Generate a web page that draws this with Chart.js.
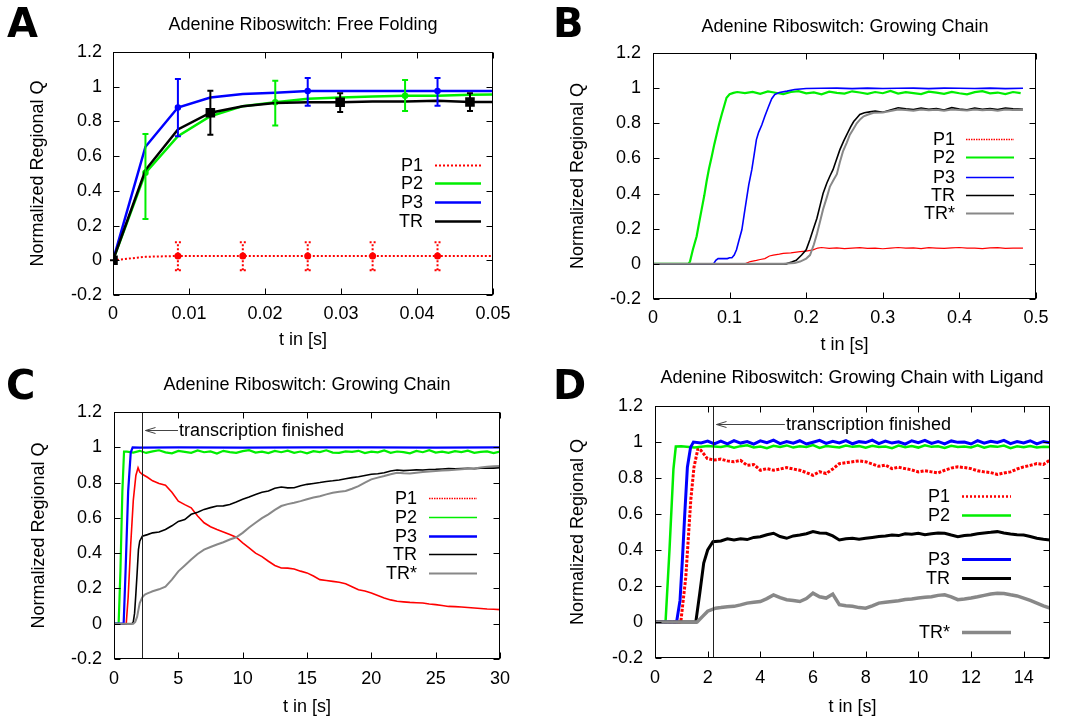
<!DOCTYPE html>
<html><head><meta charset="utf-8">
<script src="https://cdn.jsdelivr.net/npm/chart.js@4.4.1/dist/chart.umd.min.js"></script>
<style>
html,body{margin:0;padding:0;background:#fff;}
#wrap{position:relative;width:1068px;height:720px;overflow:hidden;background:#fff;font-family:"Liberation Sans",Arial,sans-serif;}
.pn{position:absolute;width:534px;height:360px;}
.pn canvas{position:absolute;left:0;top:0;}
.ttl{position:absolute;font-size:18px;line-height:18px;white-space:nowrap;transform:translateX(-50%);color:#000;}
.let{position:absolute;font-family:"DejaVu Sans",sans-serif;font-weight:bold;font-size:40px;line-height:40px;color:#000;}
</style></head>
<body>
<div id="wrap">
  <div class="pn" style="left:0;top:0"><canvas id="cA" width="534" height="360"></canvas></div>
  <div class="pn" style="left:534px;top:0"><canvas id="cB" width="534" height="360"></canvas></div>
  <div class="pn" style="left:0;top:360px"><canvas id="cC" width="534" height="360"></canvas></div>
  <div class="pn" style="left:534px;top:360px"><canvas id="cD" width="534" height="360"></canvas></div>
  <div class="let" style="left:7px;top:3px">A</div>
  <div class="let" style="left:553px;top:3px">B</div>
  <div class="let" style="left:6px;top:365px">C</div>
  <div class="let" style="left:553px;top:365px">D</div>
  <div class="ttl" style="left:303px;top:15px">Adenine Riboswitch: Free Folding</div>
  <div class="ttl" style="left:845px;top:17px">Adenine Riboswitch: Growing Chain</div>
  <div class="ttl" style="left:307px;top:375px">Adenine Riboswitch: Growing Chain</div>
  <div class="ttl" style="left:852px;top:368px">Adenine Riboswitch: Growing Chain with Ligand</div>
</div>
<script>
// ---------------- DATA ----------------
const yTicks = [-0.2, 0, 0.2, 0.4, 0.6, 0.8, 1, 1.2];
const seriesNames = ['P1', 'P2', 'P3', 'TR', 'TR*'];

// Panel A: free folding (with error bars)
const A_t   = [0, 0.00427, 0.00854, 0.01281, 0.01708, 0.02135, 0.02562, 0.02989, 0.03416, 0.03843, 0.0427, 0.04697, 0.05124];
const A_P1  = [0, 0.02, 0.025, 0.025, 0.025, 0.025, 0.025, 0.025, 0.025, 0.025, 0.025, 0.025, 0.025];
const A_P1_lo = [null, null, -0.058, null, -0.058, null, -0.058, null, -0.058, null, -0.058, null, null];
const A_P1_hi = [null, null, 0.104, null, 0.104, null, 0.104, null, 0.104, null, 0.104, null, null];
const A_P2  = [0, 0.504, 0.715, 0.83, 0.888, 0.91, 0.93, 0.938, 0.944, 0.948, 0.948, 0.954, 0.955];
const A_P2_lo = [null, 0.238, null, null, null, 0.777, null, null, null, 0.86, null, null, null];
const A_P2_hi = [null, 0.727, null, null, null, 1.035, null, null, null, 1.038, null, null, null];
const A_P3  = [0, 0.654, 0.88, 0.938, 0.958, 0.965, 0.975, 0.975, 0.975, 0.975, 0.975, 0.975, 0.975];
const A_P3_lo = [null, null, 0.715, null, null, null, 0.89, null, null, null, 0.89, null, null];
const A_P3_hi = [null, null, 1.044, null, null, null, 1.05, null, null, null, 1.05, null, null];
const A_TR  = [0, 0.52, 0.754, 0.85, 0.888, 0.906, 0.91, 0.91, 0.915, 0.915, 0.919, 0.912, 0.912];
const A_TR_lo = [0, null, null, 0.723, null, null, null, 0.854, null, null, null, 0.86, null];
const A_TR_hi = [0, null, null, 0.977, null, null, null, 0.963, null, null, null, 0.963, null];

// Panel B: growing chain (short time)
const B_tail_t = [0.33, 0.34, 0.35, 0.36, 0.37, 0.38, 0.39, 0.4, 0.41, 0.42, 0.43, 0.44, 0.45, 0.46, 0.47, 0.483];
const B_P1_t = [0, 0.12, 0.127, 0.135, 0.14, 0.146, 0.152, 0.157, 0.165, 0.17, 0.18, 0.192, 0.2, 0.209, 0.215, 0.22, 0.23, 0.24, 0.25, 0.26, 0.27, 0.28, 0.29, 0.3, 0.31, 0.32, ...B_tail_t];
const B_P1_q = [0, 0, 0.013, 0.02, 0.025, 0.03, 0.045, 0.05, 0.055, 0.06, 0.062, 0.07, 0.072, 0.08, 0.09, 0.093,
  0.088, 0.091, 0.087, 0.09, 0.092, 0.088, 0.09, 0.086, 0.09, 0.093,
  0.089, 0.091, 0.087, 0.092, 0.09, 0.088, 0.091, 0.093, 0.089, 0.09, 0.087, 0.091, 0.092, 0.088, 0.09, 0.089];
const B_P2_t = [0, 0.046, 0.0483, 0.052, 0.057, 0.06, 0.0635, 0.067, 0.07, 0.073, 0.0766, 0.08, 0.083, 0.086, 0.0897, 0.093, 0.096, 0.1, 0.105, 0.11,
  0.12, 0.13, 0.14, 0.15, 0.16, 0.17, 0.18, 0.19, 0.2, 0.21, 0.22, 0.23, 0.24, 0.25, 0.26, 0.27, 0.28, 0.29, 0.3, 0.31, 0.32, 0.33, 0.34, 0.35, 0.36, 0.37, 0.38, 0.39, 0.4, 0.41, 0.42, 0.43, 0.44, 0.45, 0.46, 0.47, 0.48];
const B_P2_q = [0, 0, 0.013, 0.08, 0.157, 0.23, 0.31, 0.39, 0.47, 0.54, 0.61, 0.68, 0.735, 0.79, 0.85, 0.9, 0.945, 0.965, 0.973, 0.978,
  0.972, 0.979, 0.968, 0.981, 0.974, 0.966, 0.978, 0.983, 0.97, 0.976,
  0.965, 0.98, 0.973, 0.969, 0.982, 0.975, 0.967, 0.978, 0.971, 0.984,
  0.969, 0.977, 0.972, 0.966, 0.98, 0.974, 0.968, 0.979, 0.971, 0.965,
  0.977, 0.983, 0.97, 0.975, 0.966, 0.978, 0.972];
const B_P3_t = [0, 0.079, 0.082, 0.085, 0.097, 0.1, 0.103, 0.106, 0.109, 0.112, 0.116, 0.119, 0.122, 0.125, 0.129, 0.132, 0.135, 0.138, 0.142, 0.146, 0.151, 0.155, 0.159, 0.165, 0.175, 0.185, 0.2,
  0.22, 0.24, 0.26, 0.28, 0.3, 0.32, 0.34, 0.36, 0.38, 0.4, 0.42, 0.44, 0.46, 0.483];
const B_P3_q = [0, 0, 0.02, 0.03, 0.03, 0.035, 0.035, 0.05, 0.08, 0.13, 0.194, 0.28, 0.365, 0.45, 0.536, 0.62, 0.707, 0.75, 0.79, 0.84, 0.897, 0.94, 0.964, 0.975, 0.983, 0.992, 0.998,
  0.999, 1.0, 0.997, 1.0, 0.998, 0.999, 1.0, 0.997, 1.0, 0.999, 0.998, 1.0, 0.997, 0.999];
const B_TR_t = [0, 0.174, 0.181, 0.187, 0.194, 0.2, 0.205, 0.209, 0.214, 0.218, 0.222, 0.227, 0.231, 0.235, 0.24, 0.244, 0.249, 0.253, 0.258, 0.262, 0.266, 0.27, 0.276, 0.283, 0.29, 0.3, 0.31, 0.32, ...B_tail_t];
const B_TR_q = [0, 0, 0.01, 0.02, 0.05, 0.08, 0.14, 0.194, 0.26, 0.33, 0.40, 0.46, 0.50, 0.536, 0.60, 0.65, 0.70, 0.735, 0.78, 0.81, 0.83, 0.85, 0.86, 0.865, 0.87, 0.863, 0.876, 0.888,
  0.882, 0.878, 0.886, 0.879, 0.884, 0.876, 0.889, 0.881, 0.877, 0.886, 0.88, 0.884, 0.878, 0.887, 0.882, 0.88];
const B_TRs_t = [0, 0.17, 0.185, 0.192, 0.2, 0.205, 0.21, 0.214, 0.218, 0.222, 0.227, 0.231, 0.236, 0.24, 0.244, 0.248, 0.253, 0.257, 0.262, 0.266, 0.271, 0.275, 0.281, 0.288, 0.3, 0.31, 0.32, ...B_tail_t];
const B_TRs_q = [0, 0, 0.005, 0.013, 0.03, 0.05, 0.11, 0.17, 0.24, 0.31, 0.38, 0.44, 0.48, 0.51, 0.58, 0.64, 0.69, 0.735, 0.77, 0.80, 0.825, 0.84, 0.85, 0.86, 0.862, 0.87, 0.878,
  0.876, 0.872, 0.879, 0.874, 0.877, 0.871, 0.878, 0.875, 0.873, 0.879, 0.874, 0.877, 0.872, 0.878, 0.876, 0.875];

// Panel C: growing chain (long time)
const C_tail_t = [3, 3.5, 4, 4.5, 5, 5.5, 6, 6.5, 7, 7.5, 8, 8.5, 9, 9.5, 10, 10.5, 11, 11.5, 12, 12.5, 13, 13.5, 14, 14.5, 15, 15.5, 16, 16.5, 17, 17.5,
  18, 18.5, 19, 19.5, 20, 20.5, 21, 21.5, 22, 22.5, 23, 23.5, 24, 24.5, 25, 25.5, 26, 26.5, 27, 27.5, 28, 28.5, 29, 29.5, 30];
const C_P1_t = [0, 0.95, 1.1, 1.3, 1.5, 1.7, 1.87, 2.0, 2.2, 2.6, ...C_tail_t];
const C_P1_q = [0, 0, 0.15, 0.45, 0.7, 0.84, 0.884, 0.86, 0.847, 0.83,
  0.81, 0.795, 0.785, 0.745, 0.695, 0.675, 0.657, 0.61, 0.572, 0.55,
  0.534, 0.52, 0.506, 0.49, 0.458, 0.43, 0.40, 0.38, 0.354, 0.33,
  0.316, 0.315, 0.31, 0.298, 0.288, 0.27, 0.25, 0.245, 0.24, 0.235,
  0.227, 0.21, 0.193, 0.185, 0.174, 0.16, 0.146, 0.135, 0.127, 0.124,
  0.121, 0.119, 0.117, 0.112, 0.108, 0.103, 0.098, 0.097, 0.095, 0.092,
  0.089, 0.086, 0.083, 0.082, 0.08];
const C_P2_t = [0, 0.36, 0.5, 0.65, 0.78, 1, 1.5, 2, 2.5, ...C_tail_t];
const C_P2_q = [0, 0, 0.3, 0.75, 0.975,
  0.975, 0.97, 0.98, 0.968, 0.977, 0.983, 0.971, 0.966, 0.979, 0.974,
  0.969, 0.982, 0.972, 0.977, 0.965, 0.98, 0.973, 0.968, 0.978, 0.984,
  0.97, 0.975, 0.967, 0.979, 0.972, 0.981, 0.969, 0.976, 0.966, 0.978,
  0.973, 0.983, 0.97, 0.968, 0.977, 0.974, 0.98, 0.967, 0.975, 0.971,
  0.982, 0.969, 0.976, 0.973, 0.966, 0.979, 0.972, 0.984, 0.97, 0.975,
  0.968, 0.978, 0.973, 0.981, 0.969, 0.974, 0.977, 0.967, 0.976];
const C_P3_t = [0, 0.75, 0.9, 1.1, 1.3, 1.45, 2, 5, 10, 15, 20, 25, 30];
const C_P3_q = [0, 0, 0.3, 0.75, 0.97, 1.0, 0.998, 1.0, 0.998, 0.999, 1.0, 0.998, 0.999];
const C_TR_t = [0, 1.4, 1.5, 1.6, 1.7, 1.8, 1.9, 2.0, 2.2, 2.6, ...C_tail_t];
const C_TR_q = [0, 0, 0.01, 0.06, 0.17, 0.29, 0.42, 0.468, 0.496, 0.505,
  0.515, 0.52, 0.534, 0.555, 0.58, 0.59, 0.62, 0.632, 0.648, 0.658,
  0.667, 0.668, 0.676, 0.69, 0.705, 0.718, 0.733, 0.745, 0.752, 0.768,
  0.775, 0.77, 0.771, 0.782, 0.79, 0.795, 0.8, 0.806, 0.81, 0.815,
  0.822, 0.828, 0.833, 0.84, 0.847, 0.85, 0.856, 0.866, 0.871, 0.868,
  0.87, 0.872, 0.871, 0.874, 0.875, 0.877, 0.879, 0.878, 0.88, 0.881,
  0.879, 0.882, 0.883, 0.882, 0.884];
const C_TRs_t = [0, 1.5, 1.65, 1.8, 1.9, 2.0, 2.2, 2.4, 2.6, 2.8, ...C_tail_t];
const C_TRs_q = [0, 0, 0.01, 0.04, 0.08, 0.117, 0.15, 0.165, 0.172, 0.178,
  0.184, 0.195, 0.21, 0.25, 0.297, 0.33, 0.364, 0.395, 0.42, 0.435,
  0.449, 0.462, 0.477, 0.49, 0.515, 0.545, 0.572, 0.598, 0.62, 0.645,
  0.667, 0.678, 0.686, 0.695, 0.705, 0.715, 0.723, 0.733, 0.742, 0.748,
  0.752, 0.765, 0.78, 0.8, 0.818, 0.828, 0.837, 0.847, 0.856, 0.853,
  0.852, 0.856, 0.86, 0.863, 0.866, 0.868, 0.87, 0.872, 0.875, 0.878,
  0.88, 0.885, 0.89, 0.892, 0.894];
const C_finish = 2.18;

// Panel D: growing chain with ligand
const D_tail_t = [2.5, 2.75, 3, 3.25, 3.5, 3.75, 4, 4.25, 4.5, 4.75, 5, 5.25, 5.5, 5.75, 6, 6.25, 6.5, 6.75, 7, 7.25, 7.5, 7.75, 8, 8.25, 8.5, 8.75,
  9, 9.25, 9.5, 9.75, 10, 10.25, 10.5, 10.75, 11, 11.25, 11.5, 11.75, 12, 12.25, 12.5, 12.75, 13, 13.25, 13.5, 13.75, 14, 14.25, 14.5, 14.75, 15];
const D_P1_t = [0, 0.98, 1.17, 1.36, 1.48, 1.63, 1.74, 1.99, 2.24, ...D_tail_t];
const D_P1_q = [0, 0, 0.25, 0.68, 0.86, 0.963, 0.954, 0.908, 0.9,
  0.905, 0.895, 0.89, 0.898, 0.87, 0.875, 0.843, 0.852, 0.843, 0.85,
  0.858, 0.85, 0.843, 0.83, 0.815, 0.835, 0.825, 0.85, 0.88, 0.885,
  0.89, 0.895, 0.89, 0.878, 0.865, 0.872, 0.852, 0.86, 0.852, 0.845,
  0.834, 0.84, 0.834, 0.828, 0.843, 0.855, 0.862, 0.858, 0.852, 0.84,
  0.834, 0.83, 0.82, 0.828, 0.834, 0.85, 0.862, 0.87, 0.88, 0.875, 0.9];
const D_P2_t = [0, 0.4, 0.55, 0.7, 0.79, 1.0, 1.5, 2.0, ...D_tail_t];
const D_P2_q = [0, 0, 0.4, 0.85, 0.975, 0.976, 0.97, 0.978,
  0.972, 0.979, 0.968, 0.977, 0.982, 0.97, 0.975, 0.966, 0.979, 0.973,
  0.981, 0.969, 0.976, 0.972, 0.983, 0.967, 0.978, 0.974, 0.97, 0.98,
  0.973, 0.977, 0.968, 0.979, 0.972, 0.975, 0.966, 0.98, 0.971, 0.977,
  0.969, 0.982, 0.973, 0.976, 0.967, 0.979, 0.972, 0.975, 0.97, 0.981,
  0.968, 0.977, 0.973, 0.98, 0.966, 0.976, 0.971, 0.978, 0.969, 0.974, 0.972];
const D_P3_t = [0, 0.82, 0.95, 1.04, 1.13, 1.23, 1.35, 1.46, 1.75, 2, 2.25, ...D_tail_t];
const D_P3_q = [0, 0, 0.12, 0.345, 0.6, 0.86, 0.97, 1.0, 0.995, 1.005, 0.99,
  1.005, 0.99, 1.008, 0.994, 1.002, 0.988, 1.006, 0.996, 1.01, 0.991,
  1.003, 0.993, 1.007, 0.989, 0.999, 1.009, 0.992, 1.004, 0.995, 1.008,
  0.99, 1.002, 0.997, 1.01, 0.991, 1.005, 0.994, 1.001, 0.988, 1.007,
  0.996, 1.009, 0.992, 1.003, 0.99, 1.006, 0.998, 1.0, 0.989, 1.008,
  0.993, 1.004, 0.997, 1.009, 0.991, 1.002, 0.995, 1.007, 0.99, 1.003, 0.996];
const D_TR_t = [0, 1.55, 1.7, 1.85, 2.0, 2.2, ...D_tail_t];
const D_TR_q = [0, 0, 0.16, 0.327, 0.4, 0.446,
  0.45, 0.462, 0.456, 0.462, 0.458, 0.47, 0.474, 0.485, 0.493, 0.475,
  0.465, 0.478, 0.483, 0.49, 0.502, 0.495, 0.493, 0.478, 0.456, 0.462,
  0.465, 0.46, 0.465, 0.47, 0.475, 0.478, 0.483, 0.48, 0.49, 0.487,
  0.493, 0.485, 0.49, 0.495, 0.493, 0.483, 0.474, 0.48, 0.483, 0.49,
  0.495, 0.498, 0.502, 0.495, 0.489, 0.485, 0.483, 0.475, 0.465, 0.46, 0.456];
const D_TRs_t = [0, 1.6, 1.8, 2.0, 2.3, ...D_tail_t];
const D_TRs_q = [0, 0, 0.03, 0.06, 0.077,
  0.08, 0.085, 0.087, 0.095, 0.105, 0.11, 0.114, 0.13, 0.15, 0.135,
  0.124, 0.12, 0.114, 0.13, 0.16, 0.14, 0.133, 0.155, 0.096, 0.09,
  0.087, 0.08, 0.077, 0.09, 0.105, 0.11, 0.114, 0.118, 0.125, 0.128,
  0.133, 0.138, 0.14, 0.148, 0.151, 0.14, 0.124, 0.128, 0.133, 0.14,
  0.148, 0.155, 0.16, 0.158, 0.151, 0.145, 0.133, 0.12, 0.105, 0.09, 0.077];
const D_finish = 2.2;

// ---------------- RENDER ----------------
const F = '"Liberation Sans", Arial, sans-serif';
const RED = '#ff0000', GREEN = '#00ee00', BLUE = '#0000ff', BLACK = '#000000', GRAY = '#888888';
Chart.defaults.color = '#000';

function pts(t, q) {
  const n = Math.min(t.length, q.length), a = [];
  for (let i = 0; i < n; i++) a.push({x: t[i], y: q[i]});
  return a;
}
function fmt(v) { return String(Math.round(v * 10000) / 10000); }

const gnu = {
  id: 'gnu',
  afterDatasetsDraw(chart, args, o) {
    const {ctx, chartArea: ca, scales: {x, y}} = chart;
    ctx.save();
    chart.data.datasets.forEach(d => {
      if (!d.errLo) return;
      ctx.strokeStyle = d.borderColor; ctx.lineWidth = d.errWidth || 2; ctx.setLineDash(d.errDash || []);
      d.errLo.forEach((lo, i) => {
        if (lo == null || !d.data[i]) return;
        const px = x.getPixelForValue(d.data[i].x), p1 = y.getPixelForValue(lo), p2 = y.getPixelForValue(d.errHi[i]);
        ctx.beginPath();
        ctx.moveTo(px, p1); ctx.lineTo(px, p2);
        ctx.moveTo(px - 3, p1); ctx.lineTo(px + 3, p1);
        ctx.moveTo(px - 3, p2); ctx.lineTo(px + 3, p2);
        ctx.stroke();
      });
    });
    ctx.setLineDash([]);
    if (o.finish) {
      const fx = Math.round(x.getPixelForValue(o.finish.t)) + 0.5;
      ctx.strokeStyle = '#222'; ctx.lineWidth = 1;
      ctx.beginPath(); ctx.moveTo(fx, ca.top); ctx.lineTo(fx, ca.bottom); ctx.stroke();
      const ay = Math.round(y.getPixelForValue(o.finish.q)) + 0.5;
      const tx = x.getPixelForValue(o.finish.textT);
      ctx.strokeStyle = '#444';
      ctx.beginPath();
      ctx.moveTo(tx - 1, ay); ctx.lineTo(fx + 3, ay);
      ctx.moveTo(fx + 13, ay - 3); ctx.lineTo(fx + 3, ay); ctx.lineTo(fx + 13, ay + 3);
      ctx.stroke();
      ctx.fillStyle = '#000'; ctx.font = '18px ' + F; ctx.textAlign = 'left'; ctx.textBaseline = 'middle';
      ctx.fillText(o.finish.text, tx, ay + 1);
    }
    const L = Math.round(ca.left) + 0.5, R = Math.round(ca.right) - 0.5, T = Math.round(ca.top) + 0.5, B = Math.round(ca.bottom) - 0.5;
    ctx.strokeStyle = '#000'; ctx.lineWidth = 1;
    ctx.strokeRect(L, T, R - L, B - T);
    ctx.beginPath();
    x.ticks.forEach(t => { const px = Math.round(x.getPixelForValue(t.value)) + 0.5;
      ctx.moveTo(px, B); ctx.lineTo(px, B - 6); ctx.moveTo(px, T); ctx.lineTo(px, T + 6); });
    y.ticks.forEach(t => { const py = Math.round(y.getPixelForValue(t.value)) + 0.5;
      ctx.moveTo(L, py); ctx.lineTo(L + 6, py); ctx.moveTo(R, py); ctx.lineTo(R - 6, py); });
    ctx.stroke();
    ctx.restore();
  },
  afterDraw(chart, args, o) {
    const lg = o.legend; if (!lg) return;
    const ctx = chart.ctx;
    ctx.save();
    ctx.font = '18px ' + F; ctx.textAlign = 'right'; ctx.textBaseline = 'middle';
    chart.data.datasets.forEach((d, i) => {
      const yy = lg.ys[i] + 0.5;
      ctx.fillStyle = '#000';
      ctx.fillText(d.label, lg.xr, yy + 1);
      ctx.strokeStyle = d.borderColor; ctx.lineWidth = d.legendWidth; ctx.setLineDash(d.legendDash || []);
      ctx.beginPath(); ctx.moveTo(lg.x1, yy); ctx.lineTo(lg.x2, yy); ctx.stroke();
    });
    ctx.restore();
  }
};
Chart.register(gnu);

function ds(label, t, q, color, w, extra) {
  return Object.assign({
    label, data: pts(t, q), borderColor: color, backgroundColor: color, borderWidth: w,
    pointRadius: 0, pointHoverRadius: 0, tension: 0, fill: false, spanGaps: true,
    legendWidth: w, legendDash: []
  }, extra || {});
}
function markAt(lo, r) { return c => (lo[c.dataIndex] != null ? r : 0); }

function build(id, L, xc, datasets, plug) {
  datasets.forEach((d, i) => { d.order = -i; });
  const tickFont = {family: F, size: 18};
  return new Chart(document.getElementById(id), {
    type: 'line',
    data: {datasets},
    options: {
      responsive: false, animation: false, events: [],
      layout: {padding: {left: 0, right: L.pr, top: L.top, bottom: 0}},
      plugins: {legend: {display: false}, tooltip: {enabled: false}, gnu: plug},
      scales: {
        x: {
          type: 'linear', min: xc.min, max: xc.max,
          afterFit: s => { s.height = L.xh; },
          grid: {display: false, drawTicks: false}, border: {display: false},
          ticks: {stepSize: xc.step, includeBounds: false, autoSkip: false, maxRotation: 0, minRotation: 0,
                  padding: L.xtp, color: '#000', font: tickFont, callback: v => fmt(v)},
          title: {display: true, text: 't in [s]', color: '#000', font: tickFont, padding: {top: 0, bottom: L.xtt}}
        },
        y: {
          type: 'linear', min: yTicks[0], max: yTicks[yTicks.length - 1],
          afterFit: s => { s.width = L.left; },
          grid: {display: false, drawTicks: false}, border: {display: false},
          ticks: {stepSize: yTicks[2] - yTicks[1], autoSkip: false, padding: L.ytp, color: '#000', font: tickFont, callback: v => fmt(v)},
          title: {display: true, text: 'Normalized Regional Q', color: '#000', font: tickFont, padding: {top: L.ytt, bottom: 0}}
        }
      }
    }
  });
}

// ---- Panel A
build('cA', {left: 113, pr: 41, top: 52, xh: 65, xtp: 8, xtt: 9, ytp: 11, ytt: 27},
  {min: 0, max: 0.05, step: 0.01},
  [
    ds(seriesNames[0], A_t, A_P1, RED, 2, {borderDash: [2, 2], legendDash: [2, 2], errLo: A_P1_lo, errHi: A_P1_hi, errDash: [2, 2], errWidth: 2, pointRadius: markAt(A_P1_lo, 2.5)}),
    ds(seriesNames[1], A_t, A_P2, GREEN, 2.5, {errLo: A_P2_lo, errHi: A_P2_hi, errWidth: 2, pointRadius: markAt(A_P2_lo, 2)}),
    ds(seriesNames[2], A_t, A_P3, BLUE, 2.5, {errLo: A_P3_lo, errHi: A_P3_hi, errWidth: 2, pointRadius: markAt(A_P3_lo, 2)}),
    ds(seriesNames[3], A_t, A_TR, BLACK, 2.5, {errLo: A_TR_lo, errHi: A_TR_hi, errWidth: 2, pointStyle: 'rect', pointRadius: markAt(A_TR_lo, 5)})
  ],
  {legend: {xr: 423, x1: 435, x2: 481, ys: [165, 183, 202, 221]}});

// ---- Panel B
build('cB', {left: 119, pr: 32, top: 53, xh: 61, xtp: 8, xtt: 4, ytp: 12, ytt: 33},
  {min: 0, max: 0.5, step: 0.1},
  [
    ds(seriesNames[0], B_P1_t, B_P1_q, RED, 1.2, {legendWidth: 1.5, legendDash: [1.5, 1]}),
    ds(seriesNames[1], B_P2_t, B_P2_q, GREEN, 2.2, {legendWidth: 2}),
    ds(seriesNames[2], B_P3_t, B_P3_q, BLUE, 1.6),
    ds(seriesNames[3], B_TR_t, B_TR_q, BLACK, 1.6),
    ds(seriesNames[4], B_TRs_t, B_TRs_q, GRAY, 2)
  ],
  {legend: {xr: 421, x1: 432, x2: 480, ys: [139, 157, 177, 195, 213]}});

// ---- Panel C
build('cC', {left: 114, pr: 34, top: 52, xh: 61, xtp: 9, xtt: 2, ytp: 12, ytt: 28},
  {min: 0, max: 30, step: 5},
  [
    ds(seriesNames[0], C_P1_t, C_P1_q, RED, 1.6, {legendWidth: 1.5, legendDash: [1.5, 1]}),
    ds(seriesNames[1], C_P2_t, C_P2_q, GREEN, 2.2, {legendWidth: 1.5}),
    ds(seriesNames[2], C_P3_t, C_P3_q, BLUE, 2.2, {legendWidth: 2.5}),
    ds(seriesNames[3], C_TR_t, C_TR_q, BLACK, 1.6),
    ds(seriesNames[4], C_TRs_t, C_TRs_q, GRAY, 2)
  ],
  {legend: {xr: 417, x1: 429, x2: 477, ys: [138, 157, 176, 194, 213]},
   finish: {t: C_finish, q: 1.1, textT: 5.05, text: 'transcription finished'}});

// ---- Panel D
build('cD', {left: 121, pr: 18, top: 46, xh: 62, xtp: 9, xtt: 2, ytp: 12, ytt: 33},
  {min: 0, max: 15, step: 2},
  [
    ds(seriesNames[0], D_P1_t, D_P1_q, RED, 3, {borderDash: [3, 1.5], legendDash: [2, 2], legendWidth: 2.5}),
    ds(seriesNames[1], D_P2_t, D_P2_q, GREEN, 2.5),
    ds(seriesNames[2], D_P3_t, D_P3_q, BLUE, 3),
    ds(seriesNames[3], D_TR_t, D_TR_q, BLACK, 3),
    ds(seriesNames[4], D_TRs_t, D_TRs_q, GRAY, 3.5)
  ],
  {legend: {xr: 416, x1: 428, x2: 477, ys: [136, 155, 199, 218, 272]},
   finish: {t: D_finish, q: 1.1, textT: 4.97, text: 'transcription finished'}});
</script>
</body></html>
